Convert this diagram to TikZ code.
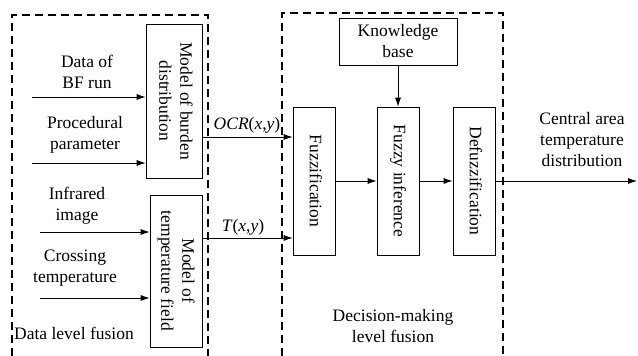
\documentclass[tikz,border=0pt]{standalone}
\usepackage{fontspec}
\setmainfont{LiberationSerif}[Extension=.ttf,UprightFont=*-Regular,ItalicFont=*-Italic,BoldFont=*-Bold,BoldItalicFont=*-BoldItalic]
\usetikzlibrary{arrows.meta,positioning}
\tikzset{font=\rmfamily\fontsize{17.5}{21}\selectfont}
\tikzset{box/.style={draw,line width=0.7pt,inner sep=0pt,align=center},
  flow/.style={-{Latex[length=9pt,width=6pt]},line width=0.8pt},
  zone/.style={dash pattern=on 8pt off 5pt,line width=1.1pt},
  lbl/.style={align=center,inner sep=0pt}}
\newcommand{\vtext}[1]{\rotatebox{-90}{\begin{tabular}{@{}c@{}}#1\end{tabular}}}

\begin{document}
\begin{tikzpicture}[x=1pt,y=1pt]
  \useasboundingbox (0,0) rectangle (638,356);
  % fusion zones
  \draw[zone] (12,0) -- (12,341) -- (208,341) -- (208,0);
  \draw[zone] (282,0) -- (282,343) -- (503,343) -- (503,0);
  % blocks
  \node[box,minimum width=56,minimum height=154] (burden) at (174,255) {\vtext{Model of burden\\distribution}};
  \node[box,minimum width=52,minimum height=152] (temp) at (176,85) {\vtext{Model of\\temperature field}};
  \node[box,minimum width=42,minimum height=148] (fuz) at (314,175) {\vtext{Fuzzification}};
  \node[box,minimum width=42,minimum height=148] (inf) at (398,175) {\vtext{Fuzzy inference}};
  \node[box,minimum width=42,minimum height=148] (defuz) at (474,175) {\vtext{Defuzzification}};
  \node[box,minimum width=118,minimum height=47] (kb) at (398,314.5) {Knowledge\\base};
  % inputs
  \coordinate (in1) at (32,259);
  \coordinate (in2) at (32,193);
  \coordinate (in3) at (40,124);
  \coordinate (in4) at (40,58);
  \draw[flow] (in1) -- (in1 -| burden.west);
  \draw[flow] (in2) -- (in2 -| burden.west);
  \draw[flow] (in3) -- (in3 -| temp.west);
  \draw[flow] (in4) -- (in4 -| temp.west);
  \node[lbl] (bf) at (87,284) {Data of\\BF run};
  \node[lbl] (proc) at (85,221.5) {Procedural\\parameter};
  \node[lbl] (ir) at (77,150.5) {Infrared\\image};
  \node[lbl] (cross) at (75,88) {Crossing\\temperature};
  \node[lbl,anchor=west] (dlf) at (14,23) {Data level fusion};
  % fusion
  \coordinate (ocr) at (202,219);
  \coordinate (txy) at (202,118);
  \draw[flow] (ocr) -- (ocr -| fuz.west);
  \draw[flow] (txy) -- (txy -| fuz.west);
  \node[lbl] (ocrlbl) at (247,231) {\textit{OCR}(\textit{x},\textit{y})};
  \node[lbl] (tlbl) at (243,129) {\textit{T}(\textit{x},\textit{y})};
  \draw[flow] (kb) -- (inf);
  \draw[flow] (fuz) -- (inf);
  \draw[flow] (inf) -- (defuz);
  \coordinate (out) at (637,175);
  \draw[flow] (defuz) -- (out);
  \node[lbl] (outlbl) at (582,216) {Central area\\temperature\\distribution};
  \node[lbl] (dmlf) at (393,30) {Decision-making\\level fusion};
\end{tikzpicture}
\end{document}
